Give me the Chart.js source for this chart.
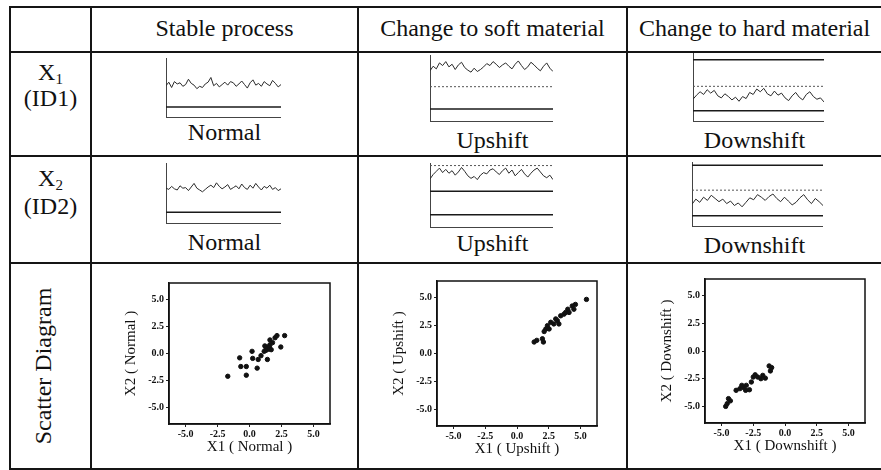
<!DOCTYPE html>
<html>
<head>
<meta charset="utf-8">
<script src="https://cdn.jsdelivr.net/npm/chart.js@4.4.0/dist/chart.umd.min.js"></script>
<style>
body { margin: 0; background: #fff; }
#page { position: relative; width: 881px; height: 470px; overflow: hidden; background: #fff;
        font-family: 'Liberation Serif', 'Times New Roman', serif; color: #111; }
.ln { position: absolute; background: #151515; }
.txt { position: absolute; font-size: 24px; line-height: 24px; text-align: center; white-space: nowrap; }
.txt sub { font-size: 15px; vertical-align: -4px; line-height: 0; }
canvas { position: absolute; }
</style>
</head>
<body>
<div id="page">
  <!-- table grid -->
  <div class="ln" style="left:9px;top:6px;width:872px;height:2px"></div>
  <div class="ln" style="left:9px;top:51px;width:872px;height:2px"></div>
  <div class="ln" style="left:9px;top:155px;width:872px;height:2px"></div>
  <div class="ln" style="left:9px;top:262px;width:872px;height:2px"></div>
  <div class="ln" style="left:9px;top:468px;width:872px;height:2px"></div>
  <div class="ln" style="left:9px;top:6px;width:2px;height:464px"></div>
  <div class="ln" style="left:90px;top:6px;width:2px;height:464px"></div>
  <div class="ln" style="left:357px;top:6px;width:2px;height:464px"></div>
  <div class="ln" style="left:626px;top:6px;width:2px;height:464px"></div>

  <!-- header -->
  <div class="txt" style="left:92px;top:16px;width:265px">Stable process</div>
  <div class="txt" style="left:359px;top:16px;width:267px">Change to soft material</div>
  <div class="txt" style="left:628px;top:16px;width:253px">Change to hard material</div>

  <!-- row labels -->
  <div class="txt" style="left:11px;top:60px;width:79px">X<sub>1</sub></div>
  <div class="txt" style="left:11px;top:86px;width:79px">(ID1)</div>
  <div class="txt" style="left:11px;top:166px;width:79px">X<sub>2</sub></div>
  <div class="txt" style="left:11px;top:194px;width:79px">(ID2)</div>
  <div class="txt" style="left:31px;top:354px;width:24px;height:24px;transform:rotate(-90deg);display:flex;justify-content:center">Scatter&nbsp;Diagram</div>

  <!-- control chart captions -->
  <div class="txt" style="left:92px;top:120px;width:265px">Normal</div>
  <div class="txt" style="left:359px;top:128px;width:267px">Upshift</div>
  <div class="txt" style="left:628px;top:128px;width:253px">Downshift</div>
  <div class="txt" style="left:92px;top:230px;width:265px">Normal</div>
  <div class="txt" style="left:359px;top:231px;width:267px">Upshift</div>
  <div class="txt" style="left:628px;top:233px;width:253px">Downshift</div>

  <canvas id="cStableX1" width="116" height="60" style="left:165px;top:58px"></canvas>
  <canvas id="cStableX2" width="116" height="61" style="left:165px;top:163px"></canvas>
  <canvas id="cUpX1" width="124" height="67" style="left:429px;top:55px"></canvas>
  <canvas id="cUpX2" width="124" height="65" style="left:429px;top:163px"></canvas>
  <canvas id="cDownX1" width="132" height="69" style="left:692px;top:53px"></canvas>
  <canvas id="cDownX2" width="132" height="65" style="left:691px;top:162px"></canvas>

  <canvas id="sNormal" width="215" height="183" style="left:119px;top:275px"></canvas>
  <canvas id="sUp" width="214" height="187" style="left:387px;top:273px"></canvas>
  <canvas id="sDown" width="214" height="186" style="left:655px;top:271px"></canvas>
</div>
<script>
// control chart series
const stableX1 = [5.3,5.9,5.0,6.0,5.6,5.8,5.2,5.5,6.4,5.7,5.4,4.8,5.2,5.0,5.6,5.9,6.7,5.3,5.7,5.1,5.5,5.9,5.4,6.0,5.8,5.2,5.6,6.1,5.5,4.9,5.8,6.3,5.4,5.7,5.2,6.0,5.6,5.3,6.2,5.7,5.1,5.5];
const stableX2 = [5.8,5.6,6.1,5.7,5.5,6.2,5.8,5.9,5.4,6.0,6.6,5.8,5.5,5.2,5.6,6.0,6.3,5.9,6.7,6.1,5.7,6.0,6.4,5.6,5.9,6.2,5.7,6.5,5.9,5.6,6.3,5.8,6.6,6.0,5.5,6.1,5.8,6.3,5.6,5.9,5.4,5.7];
const upX1Series = [7.6,8.3,7.9,8.8,8.4,9.0,8.2,8.6,7.8,8.5,8.9,8.1,7.7,7.4,8.0,7.5,7.8,8.2,8.7,8.4,9.0,8.6,8.1,8.5,8.8,8.3,7.9,8.6,9.1,8.4,7.8,8.2,8.9,8.5,8.0,7.6,8.3,8.8,8.0,7.5];
const upX2Series = [7.5,8.2,8.7,9.2,8.5,9.0,8.4,8.8,8.1,8.6,9.3,8.7,8.0,7.6,7.9,7.4,8.1,8.5,8.3,8.9,9.1,8.6,8.2,8.8,9.2,8.4,8.9,8.0,8.5,9.0,8.3,7.8,8.4,8.9,9.2,8.6,8.0,7.7,8.1,7.4];
const downX1Series = [3.2,3.8,4.3,3.9,4.6,4.1,4.5,3.7,3.4,4.0,3.6,3.1,3.5,2.9,3.6,3.3,4.2,3.9,4.7,4.3,4.8,4.0,3.7,4.4,3.8,4.1,3.4,3.0,3.7,4.2,3.5,3.1,3.9,4.3,3.6,3.2,3.4,2.8];
const downX2Series = [3.4,4.2,3.7,4.5,4.0,4.8,4.3,3.8,4.2,3.5,3.9,3.2,3.6,3.0,3.7,4.4,4.1,4.9,4.5,4.0,4.6,5.0,4.3,3.8,4.5,3.9,3.3,3.7,4.4,4.9,4.1,3.5,4.3,3.8,3.2];

// control limit levels per chart
const stableX1Limits = [1.7];
const stableX2Limits = [1.8];
const upX1Limits = [5.2, 1.8];
const upX2Limits = [9.6, 5.6, 1.9];
const downX1Limits = [9.0, 5.1, 1.5];
const downX2Limits = [9.5, 5.6, 1.6];

// scatter points
const normalX1 = [-1.7,-0.77,-0.68,-0.25,-0.25,0.2,0.25,0.68,0.6,1.4,1.15,1.3,1.45,1.6,1.8,1.6,2.0,2.15,2.45,2.75,1.3,1.5,1.2,1.4,1.55,1.7,0.9];
const normalX2 = [-2.1,-0.4,-1.2,-1.2,-2.0,0.2,-0.45,-0.55,-1.35,-0.55,0.2,0.5,0.6,0.8,1.0,1.25,1.45,1.65,0.6,1.65,0.3,0.4,0.7,0.45,0.55,0.35,-0.2];
const upshiftX1 = [1.35,1.56,2.0,2.08,2.14,2.27,2.4,2.53,2.66,2.9,3.05,3.18,3.3,3.44,3.7,3.83,4.0,4.1,4.35,4.48,4.6,5.47];
const upshiftX2 = [1.03,1.18,1.32,1.03,1.97,2.2,2.5,2.2,2.8,2.65,3.1,2.94,2.65,3.38,3.53,3.68,3.97,3.68,4.26,3.97,4.4,4.85];
const downshiftX1 = [-4.67,-4.55,-4.45,-4.3,-3.85,-3.55,-3.25,-3.05,-2.8,-2.65,-2.5,-2.35,-2.15,-1.9,-1.75,-1.55,-1.15,-1.05,-1.25,-3.1,-3.4];
const downshiftX2 = [-5.0,-4.75,-4.3,-4.5,-3.55,-3.4,-3.3,-3.1,-3.5,-2.8,-2.35,-2.15,-2.35,-2.5,-2.2,-2.45,-1.8,-1.5,-1.35,-3.55,-3.1];

const scatterTicks = [-5, -2.5, 0, 2.5, 5];

const lineStyles = {
    solid: { color: '#1a1a1a', width: 1.5, dash: [] },
    dot: { color: '#555', width: 1, dash: [2, 2] }
};

function controlChart(id, series, limits, styles) {
    const n = series.length;
    const datasets = [{
        data: series.map((v, i) => ({ x: i, y: v })),
        borderColor: '#2a2a2a',
        borderWidth: 1,
        pointRadius: 0
    }];
    limits.forEach((lim, k) => {
        const st = lineStyles[styles[k]];
        datasets.push({
            data: [{ x: 0, y: lim }, { x: n - 1, y: lim }],
            borderColor: st.color,
            borderWidth: st.width,
            borderDash: st.dash,
            pointRadius: 0
        });
    });
    new Chart(document.getElementById(id), {
        type: 'line',
        data: { datasets },
        options: {
            responsive: false, animation: false, events: [],
            layout: { padding: 0 },
            plugins: { legend: { display: false }, tooltip: { enabled: false } },
            scales: {
                x: { type: 'linear', min: 0, max: n - 1,
                     ticks: { display: false }, grid: { display: false, drawTicks: false },
                     border: { color: '#444', width: 1 },
                     afterFit: s => { s.height = 1; } },
                y: { min: 0, max: 10,
                     ticks: { display: false }, grid: { display: false, drawTicks: false },
                     border: { color: '#444', width: 1, dash: [3, 1] },
                     afterFit: s => { s.width = 1; } }
            }
        }
    });
}

const frame = {
    id: 'frame',
    afterDraw(chart) {
        const a = chart.chartArea, ctx = chart.ctx;
        ctx.save();
        ctx.strokeStyle = '#111';
        ctx.lineWidth = 1.5;
        ctx.strokeRect(a.left, a.top, a.right - a.left, a.bottom - a.top);
        ctx.restore();
    }
};

function scatterChart(id, xs, ys, xTitle, yTitle) {
    const tickFont = { family: 'Liberation Serif', size: 10, weight: 'bold' };
    const titleFont = { family: 'Liberation Serif', size: 15 };
    new Chart(document.getElementById(id), {
        type: 'scatter',
        data: { datasets: [{
            data: xs.map((x, i) => ({ x: x, y: ys[i] })),
            backgroundColor: '#111', borderColor: '#111',
            pointRadius: 2.2, pointHoverRadius: 2.2
        }] },
        options: {
            responsive: false, animation: false, events: [],
            layout: { padding: { top: 4, right: 4, left: 0, bottom: 0 } },
            plugins: { legend: { display: false }, tooltip: { enabled: false } },
            scales: {
                x: { type: 'linear', min: -6.3, max: 6.3,
                     afterBuildTicks: s => { s.ticks = scatterTicks.map(v => ({ value: v })); },
                     afterFit: s => { s.height = 34; },
                     ticks: { color: '#111', font: tickFont, padding: 1, maxRotation: 0, autoSkip: false,
                              callback: v => v.toFixed(1) },
                     grid: { display: true, drawOnChartArea: false, tickLength: 3, color: '#222' },
                     border: { color: '#111', width: 1.5 },
                     title: { display: true, text: xTitle, color: '#111', font: titleFont, padding: { top: 0, bottom: 2 } } },
                y: { type: 'linear', min: -6.5, max: 6.5,
                     afterBuildTicks: s => { s.ticks = scatterTicks.map(v => ({ value: v })); },
                     afterFit: s => { s.width = 50; },
                     ticks: { color: '#111', font: tickFont, padding: 2, autoSkip: false,
                              callback: v => v.toFixed(1) },
                     grid: { display: true, drawOnChartArea: false, tickLength: 3, color: '#222' },
                     border: { color: '#111', width: 1.5 },
                     title: { display: true, text: yTitle, color: '#111', font: titleFont, padding: { top: 3, bottom: 0 } } }
            }
        },
        plugins: [frame]
    });
}

controlChart('cStableX1', stableX1, stableX1Limits, ['solid']);
controlChart('cStableX2', stableX2, stableX2Limits, ['solid']);
controlChart('cUpX1', upX1Series, upX1Limits, ['dot', 'solid']);
controlChart('cUpX2', upX2Series, upX2Limits, ['dot', 'solid', 'solid']);
controlChart('cDownX1', downX1Series, downX1Limits, ['solid', 'dot', 'solid']);
controlChart('cDownX2', downX2Series, downX2Limits, ['solid', 'dot', 'solid']);

scatterChart('sNormal', normalX1, normalX2, 'X1 ( Normal )', 'X2 ( Normal )');
scatterChart('sUp', upshiftX1, upshiftX2, 'X1 ( Upshift )', 'X2 ( Upshift )');
scatterChart('sDown', downshiftX1, downshiftX2, 'X1 ( Downshift )', 'X2 ( Downshift )');
</script>
</body>
</html>
